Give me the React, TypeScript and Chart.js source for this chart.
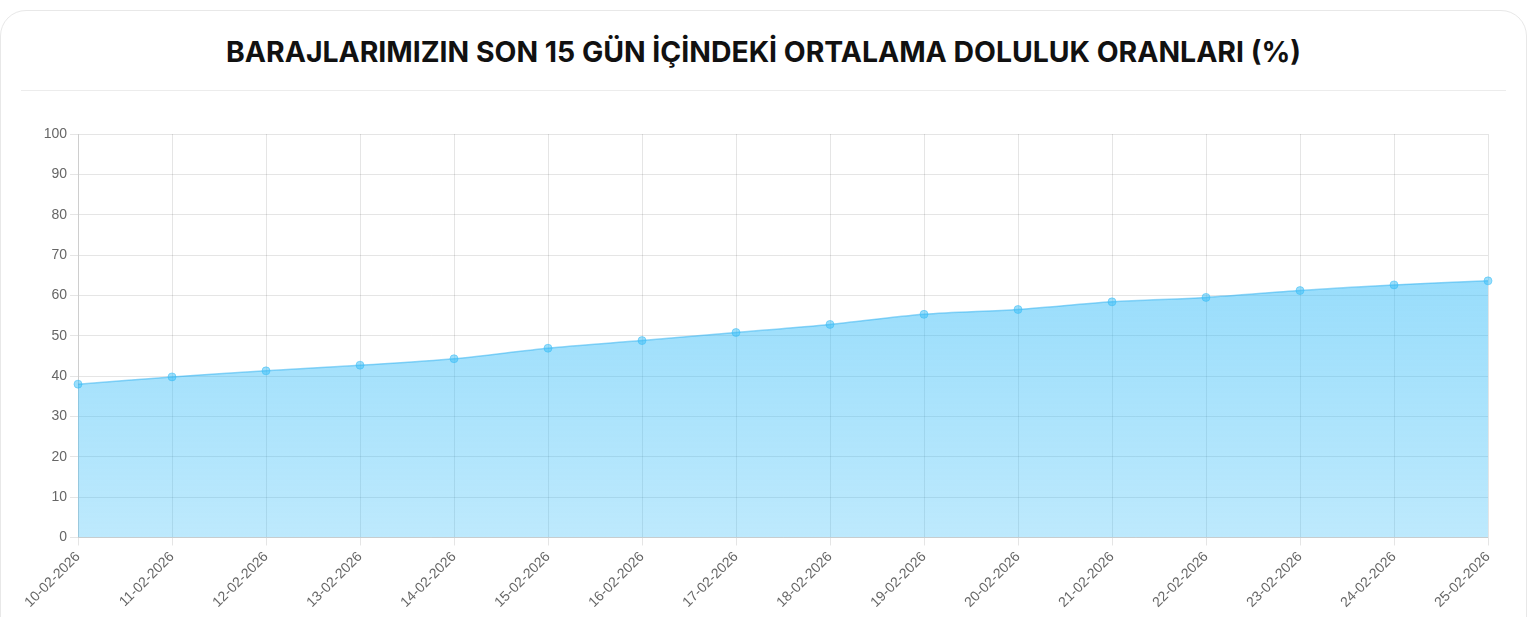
import { useRef, useEffect } from 'react';
import { Chart, registerables } from 'chart.js';

Chart.register(...registerables);

const TITLE = 'BARAJLARIMIZIN SON 15 GÜN İÇİNDEKİ ORTALAMA DOLULUK ORANLARI (%)';

const dates = [
  '10-02-2026', '11-02-2026', '12-02-2026', '13-02-2026', '14-02-2026', '15-02-2026',
  '16-02-2026', '17-02-2026', '18-02-2026', '19-02-2026', '20-02-2026', '21-02-2026',
  '22-02-2026', '23-02-2026', '24-02-2026', '25-02-2026',
];

const fillRates = [
  38.0, 39.8, 41.3, 42.7, 44.3, 46.9, 48.8, 50.8,
  52.8, 55.3, 56.5, 58.4, 59.5, 61.2, 62.6, 63.6,
];

const yMin = 0;
const yMax = 100;
const yStep = 10;

function FillChart() {
  const canvasRef = useRef<HTMLCanvasElement>(null);
  const chartRef = useRef<Chart | null>(null);

  useEffect(() => {
    if (!canvasRef.current) return;
    chartRef.current?.destroy();

    chartRef.current = new Chart(canvasRef.current, {
      type: 'line',
      data: {
        labels: dates,
        datasets: [
          {
            data: fillRates,
            fill: true,
            backgroundColor: (ctx) => {
              const area = ctx.chart.chartArea;
              if (!area) return 'rgba(56,189,248,0.45)';
              const g = ctx.chart.ctx.createLinearGradient(0, area.top, 0, area.bottom);
              g.addColorStop(0, 'rgba(56,189,248,0.62)');
              g.addColorStop(1, 'rgba(56,189,248,0.33)');
              return g;
            },
            borderColor: 'rgba(56,180,240,0.55)',
            borderWidth: 1.5,
            pointRadius: 4,
            pointBackgroundColor: 'rgba(56,189,248,0.5)',
            pointBorderColor: 'rgba(56,189,248,0.5)',
            pointBorderWidth: 1,
            tension: 0.3,
          },
        ],
      },
      options: {
        responsive: true,
        maintainAspectRatio: false,
        animation: false,
        layout: { padding: { top: 23, right: 18 } },
        plugins: { legend: { display: false }, tooltip: { enabled: false } },
        scales: {
          x: {
            ticks: {
              maxRotation: 45,
              minRotation: 45,
              font: { size: 14 },
              color: '#666',
            },
          },
          y: {
            min: yMin,
            max: yMax,
            afterFit: (scale) => {
              scale.width = 57;
            },
            ticks: { stepSize: yStep, font: { size: 14 }, color: '#666' },
          },
        },
      },
    });

    return () => {
      chartRef.current?.destroy();
      chartRef.current = null;
    };
  }, []);

  return <canvas ref={canvasRef} />;
}

export default function App() {
  useEffect(() => {
    document.body.style.margin = '0';
  }, []);

  return (
    <div
      style={{
        marginTop: 10,
        height: 640,
        boxSizing: 'border-box',
        border: '1px solid #e8e8e8',
        borderRadius: 26,
        background: '#fff',
        overflow: 'hidden',
      }}
    >
      <div
        style={{
          height: 80,
          display: 'flex',
          alignItems: 'center',
          justifyContent: 'center',
          fontFamily: 'Inter, sans-serif',
          fontWeight: 700,
          fontSize: 28.4,
          color: '#111',
          margin: '0 20px',
          paddingTop: 2,
          boxSizing: 'border-box',
          borderBottom: '1px solid #ececec',
        }}
      >
        {TITLE}
      </div>
      <div style={{ position: 'relative', margin: '20px 20px 0 20px', height: 503 }}>
        <FillChart />
      </div>
    </div>
  );
}
